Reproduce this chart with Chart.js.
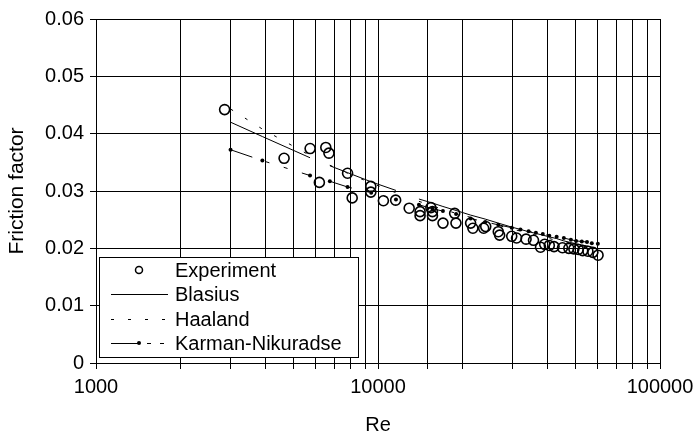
<!DOCTYPE html>
<html>
<head>
<meta charset="utf-8">
<script src="https://cdn.jsdelivr.net/npm/chart.js@4.4.0/dist/chart.umd.min.js"></script>
<style>
  html, body { margin: 0; padding: 0; background: #fff; }
  #wrap { width: 693px; height: 439px; }
</style>
</head>
<body>
<div id="wrap"><canvas id="grafico"></canvas></div>
<script>
// datos
const reExp = [2858, 4645, 5745, 6195, 6530, 6700, 7800, 8100, 9430, 9430, 10450, 11550, 12900,
    14100, 14100, 15400, 15600, 15600, 17000, 18700, 18900, 21300, 21700, 23700, 24100, 26700,
    27000, 29800, 31000, 33500, 35600, 37700, 39000, 40500, 42100, 45100, 47500, 49500, 51300,
    53200, 55500, 57800, 60300];
const fExp = [0.0442, 0.0357, 0.0374, 0.0315, 0.0376, 0.0366, 0.0331, 0.0288, 0.0308, 0.0298, 0.0283,
    0.0284, 0.0270, 0.0264, 0.0257, 0.0271, 0.0264, 0.0257, 0.0244, 0.0261, 0.0244, 0.0244, 0.0235,
    0.0235, 0.0238, 0.0229, 0.0223, 0.0221, 0.0218, 0.0216, 0.0214, 0.0202, 0.0207, 0.0205, 0.0203,
    0.0201, 0.0200, 0.0199, 0.0198, 0.0196, 0.0195, 0.0193, 0.0188];

// Re de las curvas teoricas (null = hueco en la linea)
const reTeo = [3000, 3890, 5740, 6200, 6750, 7800, 9460, 11580, 12800, 13970, 15600, 16990, 18920,
    21300, 24000, 26700, 29800, 32000, 34200, 36300, 38400, 40500, 43000, 45600, 48300, 50400,
    52800, 55100, 57300, 60200];
const fBlasius = [0.0420, 0.0395, 0.0358, null, 0.0344, 0.0332, 0.0316, 0.0301, null, 0.0286, 0.0279,
    0.0273, 0.0266, 0.0258, 0.0251, 0.0244, 0.0237, 0.0233, 0.0229, 0.0226, 0.0223, 0.0220, 0.0217,
    0.0213, 0.0210, 0.0208, 0.0206, 0.0204, 0.0202, 0.0199];
const fHaaland = [0.0443, 0.0408, 0.0362, null, 0.0345, 0.0331, 0.0314, 0.0297, null, 0.0282, 0.0274,
    0.0268, 0.0261, 0.0254, 0.0246, 0.0240, 0.0234, 0.0230, 0.0226, 0.0223, 0.0220, 0.0217, 0.0214,
    0.0212, 0.0209, 0.0207, 0.0205, 0.0203, 0.0201, 0.0199];
const fKarman = [0.0372, 0.0353, 0.0327, null, 0.0317, 0.0307, 0.0297, 0.0285, null, 0.0276, 0.0269,
    0.0265, 0.0260, 0.0252, 0.0246, 0.0241, 0.0236, 0.0233, 0.0230, 0.0227, 0.0225, 0.0222, 0.0220,
    0.0218, 0.0215, 0.0213, 0.0212, 0.0211, 0.0209, 0.0208];

const xTicks = [1000, 10000, 100000];
const yTicks = [0, 0.01, 0.02, 0.03, 0.04, 0.05, 0.06];

function puntos(xs, ys) {
    return xs.map((x, i) => ({ x: x, y: ys[i] }));
}

const fuente = 'Arial, "Liberation Sans", sans-serif';
const tam = 20;

// leyenda dibujada dentro del area del grafico (abajo a la izquierda)
const leyenda = {
    id: 'leyenda',
    afterDraw: (chart) => {
        const ctx = chart.ctx;
        const x0 = 99, y0 = 257, w = 259, h = 100;
        ctx.save();
        ctx.fillStyle = '#fff';
        ctx.fillRect(x0, y0, w, h);
        ctx.strokeStyle = '#000';
        ctx.lineWidth = 1;
        ctx.strokeRect(x0 + 0.5, y0 + 0.5, w, h);
        const filas = [270, 294, 319, 343];
        const sx1 = 111, sx2 = 168;
        chart.data.datasets.forEach((ds, i) => {
            const y = filas[i];
            ctx.strokeStyle = '#000';
            ctx.fillStyle = '#000';
            if (i === 0) {
                ctx.lineWidth = 1.5;
                ctx.beginPath();
                ctx.arc(139, y, 3.5, 0, Math.PI * 2);
                ctx.stroke();
            } else {
                ctx.lineWidth = 1;
                ctx.setLineDash(i === 2 ? [3, 14] : []);
                ctx.beginPath();
                ctx.moveTo(sx1, y + 0.5);
                ctx.lineTo(i === 3 ? 139 : sx2, y + 0.5);
                ctx.stroke();
                if (i === 3) {
                    ctx.beginPath();
                    ctx.arc(139, y, 2, 0, Math.PI * 2);
                    ctx.fill();
                    ctx.beginPath();
                    ctx.moveTo(147, y + 0.5); ctx.lineTo(151, y + 0.5);
                    ctx.moveTo(160, y + 0.5); ctx.lineTo(164, y + 0.5);
                    ctx.stroke();
                }
                ctx.setLineDash([]);
            }
            ctx.font = tam + 'px ' + fuente;
            ctx.textBaseline = 'middle';
            ctx.textAlign = 'left';
            ctx.fillStyle = '#000';
            ctx.fillText(ds.label, 175, y + 1);
        });
        ctx.restore();
    }
};

const ctx = document.getElementById('grafico');
const grafico = new Chart(ctx, {
    type: 'scatter',
    data: {
        datasets: [{
            label: 'Experiment',
            data: puntos(reExp, fExp),
            showLine: false,
            pointStyle: 'circle',
            pointRadius: 5,
            pointBorderWidth: 1.6,
            borderColor: '#000',
            backgroundColor: 'rgba(0,0,0,0)'
        }, {
            label: 'Blasius',
            data: puntos(reTeo, fBlasius),
            showLine: true,
            spanGaps: false,
            borderColor: '#000',
            borderWidth: 1,
            pointRadius: 0
        }, {
            label: 'Haaland',
            data: puntos(reTeo, fHaaland),
            showLine: true,
            spanGaps: false,
            borderColor: '#000',
            borderWidth: 1,
            borderDash: [3, 14],
            pointRadius: 0
        }, {
            label: 'Karman-Nikuradse',
            data: puntos(reTeo, fKarman),
            showLine: true,
            spanGaps: false,
            borderColor: '#000',
            backgroundColor: '#000',
            borderWidth: 1,
            borderDash: [23, 14, 4, 15, 4, 15],
            pointRadius: 2,
            pointBorderWidth: 0
        }]
    },
    options: {
        responsive: true,
        maintainAspectRatio: false,
        animation: false,
        layout: { padding: { left: 0, top: 19, right: 33, bottom: 0 } },
        plugins: {
            legend: { display: false },
            tooltip: { enabled: false }
        },
        scales: {
            x: {
                type: 'logarithmic',
                min: 1000,
                max: 100000,
                border: { color: '#000', width: 1 },
                grid: { color: '#000', lineWidth: 1, tickLength: 6, tickColor: '#000' },
                ticks: {
                    autoSkip: false,
                    maxRotation: 0,
                    color: '#000',
                    padding: 6,
                    font: { family: fuente, size: tam },
                    callback: (v) => xTicks.includes(v) ? String(v) : ''
                },
                title: {
                    display: true,
                    text: 'Re',
                    color: '#000',
                    font: { family: fuente, size: tam },
                    padding: { top: 0, bottom: 2 }
                },
                afterFit: (s) => {
                    s.height = 76;
                    s.paddingLeft = 0;
                    s.paddingRight = 0;
                }
            },
            y: {
                min: 0,
                max: 0.06,
                border: { color: '#000', width: 1 },
                grid: { color: '#000', lineWidth: 1, tickLength: 6, tickColor: '#000' },
                afterBuildTicks: (s) => { s.ticks = yTicks.map(v => ({ value: v })); },
                ticks: {
                    color: '#000',
                    padding: 6,
                    font: { family: fuente, size: tam },
                    callback: (v) => String(Math.round(v * 100) / 100)
                },
                title: {
                    display: true,
                    text: 'Friction factor',
                    color: '#000',
                    font: { family: fuente, size: 21 },
                    padding: { top: 5, bottom: 0 }
                },
                afterFit: (s) => {
                    s.width = 96;
                    s.paddingTop = 0;
                    s.paddingBottom = 0;
                }
            }
        }
    },
    plugins: [leyenda]
});
</script>
</body>
</html>
